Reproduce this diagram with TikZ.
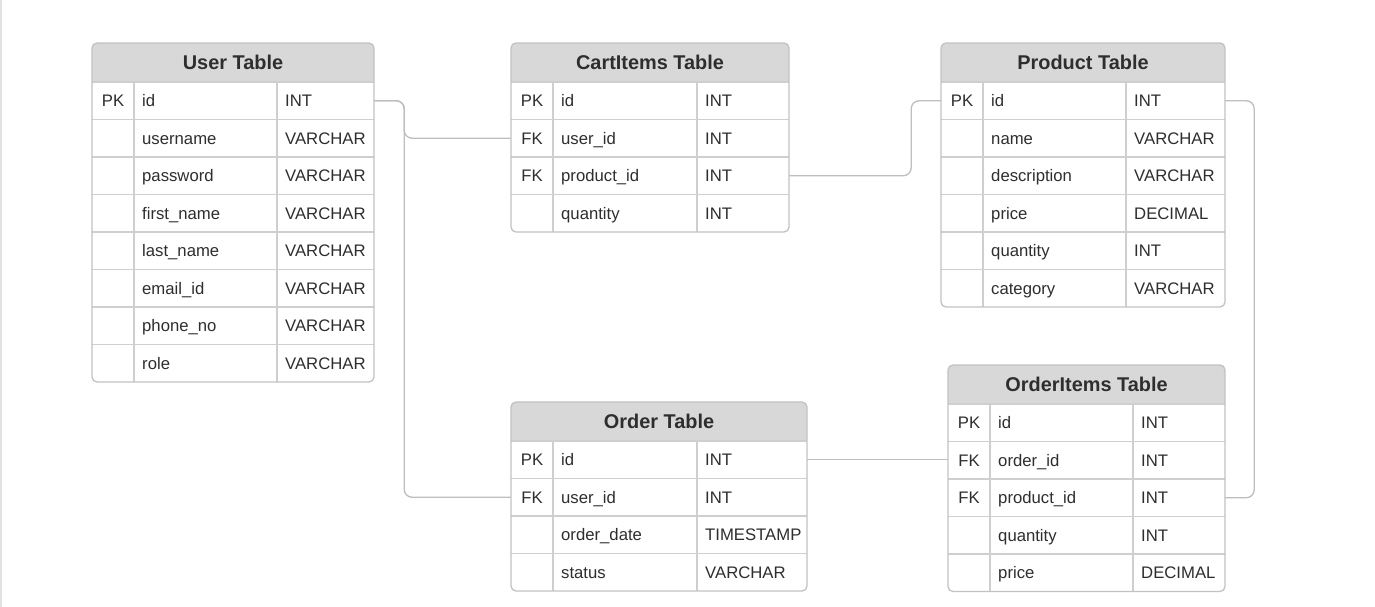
\documentclass[tikz,border=0pt]{standalone}
\usepackage{fontspec}
\setmainfont{Liberation Sans}
\definecolor{hdr}{HTML}{D8D8D8}
\definecolor{bord}{HTML}{C2C2C2}
\definecolor{gridc}{HTML}{CFCFCF}
\definecolor{txt}{HTML}{2E2E2E}
\definecolor{conn}{HTML}{BEBEBE}
\definecolor{faint}{HTML}{E2E2E2}
\tikzset{
  title/.style={font=\bfseries\fontsize{19.9}{22}\selectfont,text=txt,inner sep=0pt,anchor=base},
  cell/.style={font=\fontsize{16.7}{19}\selectfont,text=txt,inner sep=0pt},
  rowbox/.style={draw=none,inner sep=0pt,minimum height=37.5pt},
  gridline/.style={draw=gridc,line width=1.2pt},
  frame/.style={draw=bord,line width=1.3pt},
  link/.style={draw=conn,line width=1.3pt,rounded corners=8pt},
}
% #1 name, #2 x, #3 y, #4 col1, #5 col2, #6 width, #7 rows, #8 title, #9 row list
\newcommand\ertable[9]{%
  \def\X{#2}\def\Y{#3}\def\CA{#4}\def\CB{#5}\def\W{#6}%
  \pgfmathsetmacro\H{39+#7*37.5}%
  \path[fill=white,rounded corners=5pt] (\X,\Y) rectangle ++(\W,\H);
  \begin{scope}
    \clip[rounded corners=5pt] (\X,\Y) rectangle ++(\W,\H);
    \fill[hdr] (\X,\Y) rectangle ++(\W,39);
  \end{scope}
  \node[title] (#1-h) at ({\X+\W/2},{\Y+19.5+7.3}) {#8};
  \foreach[count=\i] \k/\n/\t in {#9}{%
    \pgfmathsetmacro\yc{\Y+39+(\i-0.5)*37.5}
    \node[rowbox,minimum width=\W pt] (#1-\i) at ({\X+\W/2},\yc) {};
    \node[cell,anchor=base] (#1-\i-k) at ({\X+\CA/2},{\yc+5.8}) {\k};
    \node[cell,anchor=base west] (#1-\i-n) at ({\X+\CA+8},{\yc+5.8}) {\n};
    \node[cell,anchor=base west] (#1-\i-t) at ({\X+\CB+8},{\yc+5.8}) {\t};
  }
  \foreach \j in {0,...,#7}{%
    \ifnum\j<#7\relax
      \draw[gridline] (\X,{\Y+39+\j*37.5}) -- ++(\W,0);
    \fi
  }
  \draw[gridline] ({\X+\CA},{\Y+39}) -- ++(0,{#7*37.5});
  \draw[gridline] ({\X+\CB},{\Y+39}) -- ++(0,{#7*37.5});
  \draw[frame,rounded corners=5pt] (\X,\Y) rectangle ++(\W,\H);
}
\begin{document}
\begin{tikzpicture}[x=1pt,y=-1pt]
\useasboundingbox (0,0) rectangle (1375,607);
\fill[white] (0,0) rectangle (1375,607);
\draw[faint,line width=1.2pt] (1,0) -- (1,607);

\ertable{user}{92}{43}{42}{185}{282}{8}{User Table}{PK/id/INT,/username/VARCHAR,/password/VARCHAR,/first\_name/VARCHAR,/last\_name/VARCHAR,/email\_id/VARCHAR,/phone\_no/VARCHAR,/role/VARCHAR}
\ertable{cart}{511}{43}{42}{186}{278}{4}{CartItems Table}{PK/id/INT,FK/user\_id/INT,FK/product\_id/INT,/quantity/INT}
\ertable{prod}{941}{43}{42}{185}{284}{6}{Product Table}{PK/id/INT,/name/VARCHAR,/description/VARCHAR,/price/DECIMAL,/quantity/INT,/category/VARCHAR}
\ertable{order}{511}{402}{42}{186}{296}{4}{Order Table}{PK/id/INT,FK/user\_id/INT,/order\_date/TIMESTAMP,/status/VARCHAR}
\ertable{oi}{948}{365}{42}{185}{277}{5}{OrderItems Table}{PK/id/INT,FK/order\_id/INT,FK/product\_id/INT,/quantity/INT,/price/DECIMAL}

\draw[link] (user-1.east) -- ++(30,0) |- (cart-2.west);
\draw[link] (user-1.east) -- ++(30,0) |- (order-2.west);
\draw[link] (cart-3.east) -- ++(122,0) |- (prod-1.west);
\draw[link] (prod-1.east) -- ++(29,0) |- (oi-3.east);
\draw[link] (order-1.east) -- (order-1.east -| oi-2.west);
\end{tikzpicture}
\end{document}
